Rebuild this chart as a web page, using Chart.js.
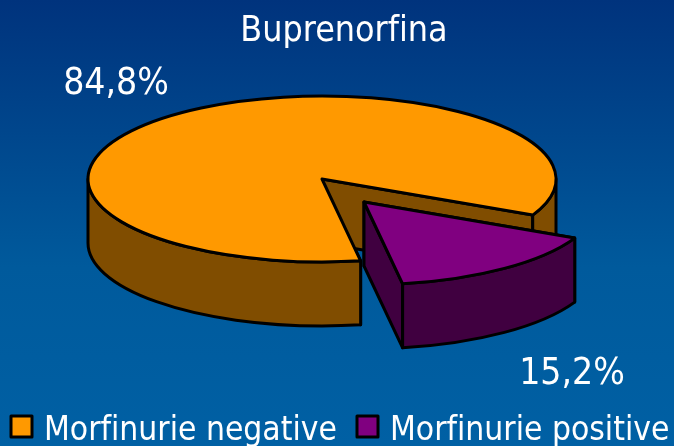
<!DOCTYPE html>
<html>
<head>
<meta charset="utf-8">
<title>Buprenorfina</title>
<script src="https://cdn.jsdelivr.net/npm/chart.js@4"></script>
<style>
html, body { margin: 0; padding: 0; width: 674px; height: 446px; overflow: hidden; }
body { background: linear-gradient(#00337d 0%, #005a9c 60%, #0060a4 100%); }
canvas { display: block; }
</style>
</head>
<body>
<canvas id="myChart" width="674" height="446"></canvas>
<script>
const categories = ['Morfinurie negative', 'Morfinurie positive'];
const values = [84.8, 15.2];
const topColors = ['#FF9900', '#800080'];
const sideColors = ['#804D00', '#400040'];

// pie geometry on the page: flattened ellipse, wall height, pulled out slice
const pie = { cx: 322, cy: 179, rx: 234, ry: 83, depth: 64 };
const explode = [[0, 0], [42, 23]];
const labelSpots = [[116, 94], [572, 384]];
const legendSpots = [11, 357];
const textFont = '"DejaVu Sans Condensed", "DejaVu Sans", sans-serif';

function pointAt(cx, cy, a) {
    return [cx + pie.rx * Math.cos(a), cy + pie.ry * Math.sin(a)];
}

function drawCutWall(ctx, cx, cy, a, color) {
    const p = pointAt(cx, cy, a);
    ctx.beginPath();
    ctx.moveTo(cx, cy);
    ctx.lineTo(p[0], p[1]);
    ctx.lineTo(p[0], p[1] + pie.depth);
    ctx.lineTo(cx, cy + pie.depth);
    ctx.closePath();
    ctx.fillStyle = color;
    ctx.fill();
    ctx.stroke();
}

function drawOuterWall(ctx, cx, cy, a0, a1, color) {
    const p = pointAt(cx, cy, a1);
    ctx.beginPath();
    ctx.ellipse(cx, cy, pie.rx, pie.ry, 0, a0, a1);
    ctx.lineTo(p[0], p[1] + pie.depth);
    ctx.ellipse(cx, cy + pie.depth, pie.rx, pie.ry, 0, a1, a0, true);
    ctx.closePath();
    ctx.fillStyle = color;
    ctx.fill();
    ctx.stroke();
}

const pie3d = {
    id: 'pie3d',
    afterLayout(chart) {
        // the title sits a bit right of the middle
        chart.titleBlock.left += 14;
    },
    beforeDraw(chart) {
        chart.ctx.textRendering = 'optimizeSpeed';
    },
    beforeDatasetsDraw(chart) {
        const ctx = chart.ctx;
        const arcs = chart.getDatasetMeta(0).data;
        ctx.save();
        ctx.lineWidth = 3;
        ctx.lineJoin = 'round';
        ctx.strokeStyle = '#000';
        arcs.forEach(function (arc, i) {
            const cx = pie.cx + explode[i][0];
            const cy = pie.cy + explode[i][1];
            drawCutWall(ctx, cx, cy, arc.startAngle, sideColors[i]);
            drawCutWall(ctx, cx, cy, arc.endAngle, sideColors[i]);
            // only the front half of the rim can be seen
            [0, 2 * Math.PI, -2 * Math.PI].forEach(function (turn) {
                const a0 = Math.max(arc.startAngle, turn);
                const a1 = Math.min(arc.endAngle, turn + Math.PI);
                if (a1 > a0) drawOuterWall(ctx, cx, cy, a0, a1, sideColors[i]);
            });

            ctx.save();
            ctx.translate(cx, cy);
            ctx.scale(pie.rx / arc.outerRadius, pie.ry / arc.outerRadius);
            ctx.translate(-arc.x, -arc.y);
            arc.draw(ctx);
            ctx.restore();

            ctx.beginPath();
            ctx.moveTo(cx, cy);
            ctx.ellipse(cx, cy, pie.rx, pie.ry, 0, arc.startAngle, arc.endAngle);
            ctx.closePath();
            ctx.stroke();
        });

        ctx.fillStyle = '#fff';
        ctx.font = '37px ' + textFont;
        ctx.textAlign = 'center';
        ctx.textBaseline = 'alphabetic';
        values.forEach(function (v, i) {
            ctx.fillText(v.toFixed(1).replace('.', ',') + '%', labelSpots[i][0], labelSpots[i][1]);
        });

        // legend: the stock one can't keep the two items this tight on one line
        ctx.font = '33.3px ' + textFont;
        ctx.textAlign = 'left';
        categories.forEach(function (name, i) {
            ctx.fillStyle = topColors[i];
            ctx.lineWidth = 3;
            ctx.fillRect(legendSpots[i], 416, 21, 21);
            ctx.strokeRect(legendSpots[i], 416, 21, 21);
            ctx.fillStyle = '#fff';
            ctx.fillText(name, legendSpots[i] + 33, 440);
        });
        ctx.restore();
        return false;
    }
};

new Chart(document.getElementById('myChart'), {
    type: 'pie',
    data: {
        labels: categories,
        datasets: [{
            label: '',
            data: values,
            backgroundColor: topColors,
            borderWidth: 0
        }]
    },
    options: {
        responsive: false,
        animation: false,
        rotation: 170.5,
        plugins: {
            title: {
                display: true,
                text: 'Buprenorfina',
                color: '#fff',
                font: { family: textFont, size: 35.5, weight: 'normal' },
                padding: { top: 10, bottom: 0 }
            },
            legend: { display: false },
            tooltip: { enabled: false }
        }
    },
    plugins: [pie3d]
});
</script>
</body>
</html>
